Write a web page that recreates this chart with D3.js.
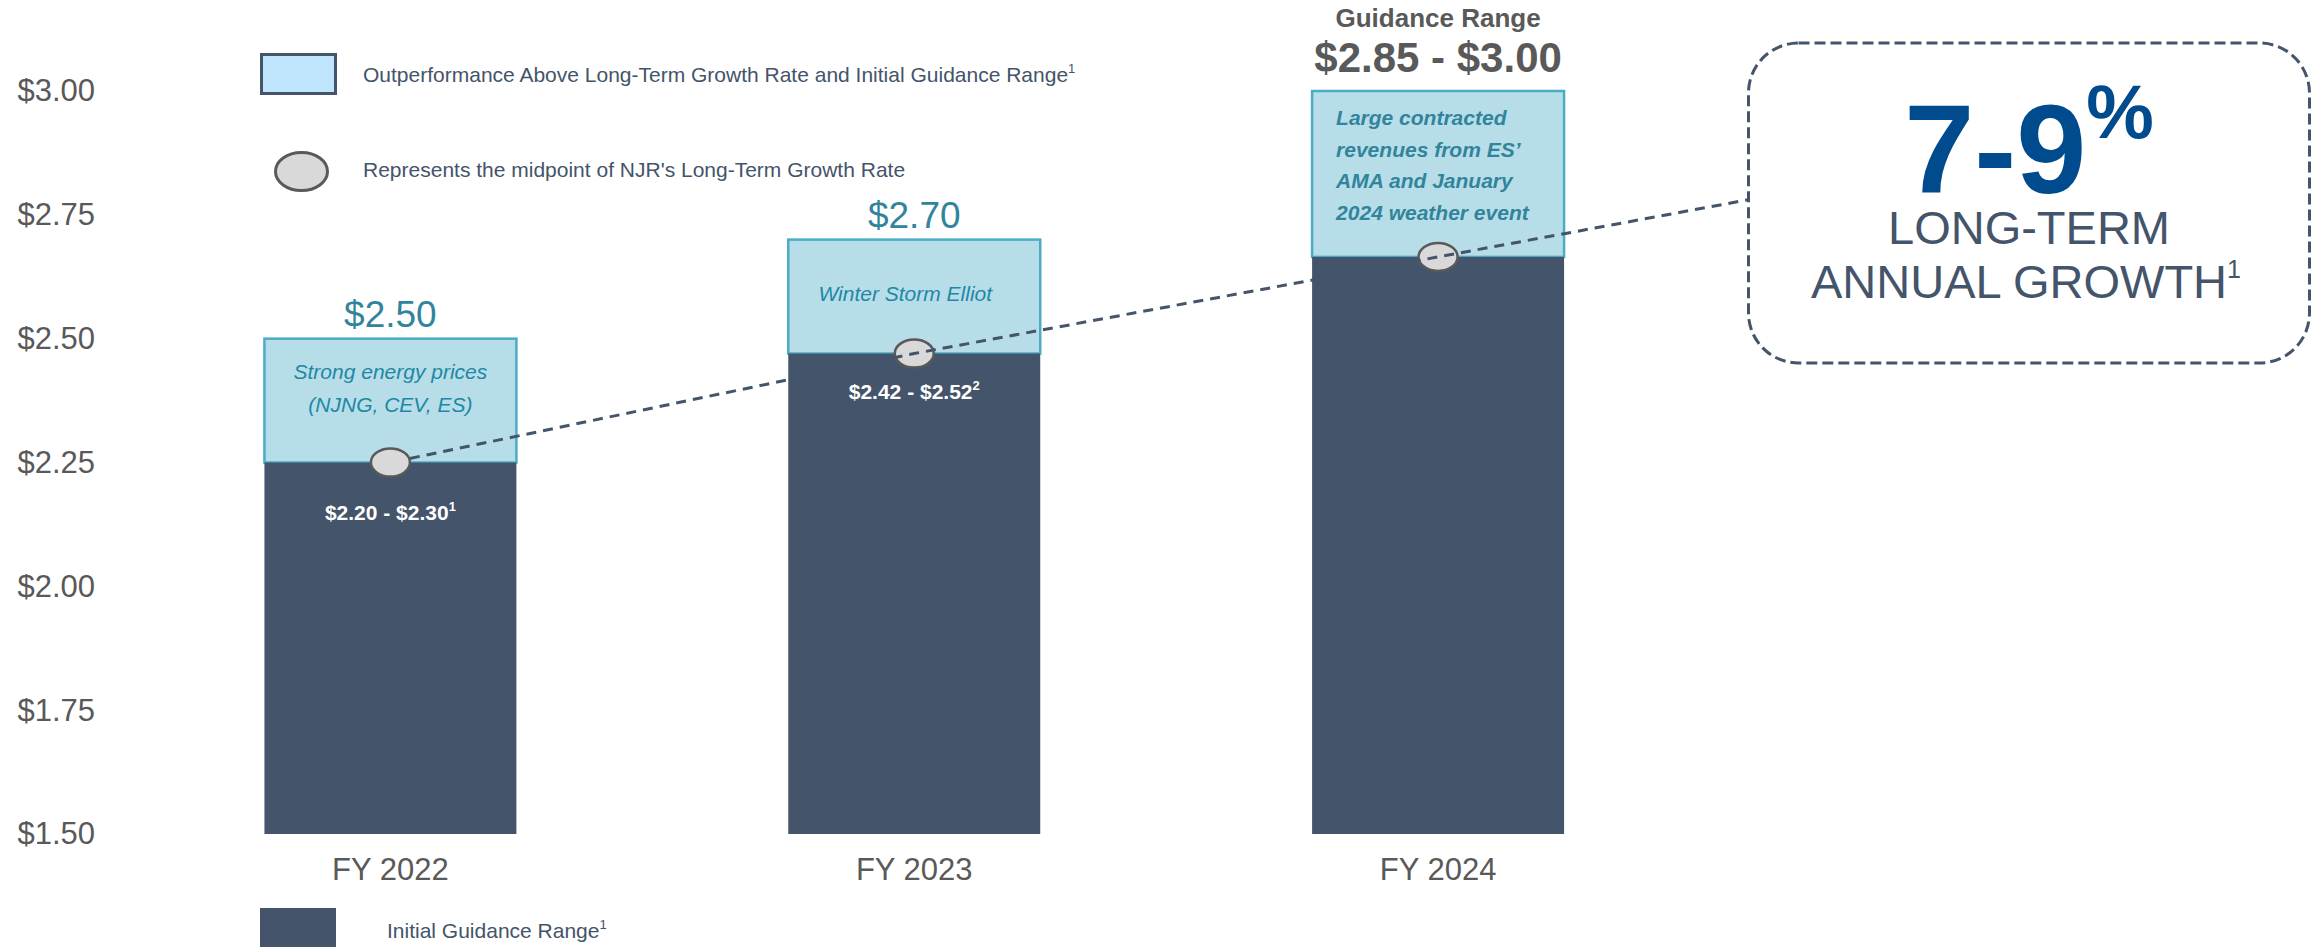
<!DOCTYPE html>
<html>
<head>
<meta charset="utf-8">
<script src="https://cdn.jsdelivr.net/npm/d3@7"></script>
<style>
  body { margin: 0; background: #fff; }
  svg { display: block; font-family: 'Liberation Sans', Arial, sans-serif; }
</style>
</head>
<body>
<div class="container-eps"></div>
<script>
const categories = ['FY 2022', 'FY 2023', 'FY 2024'];
const guidanceMid = [2.25, 2.47, 2.665];
const actualEps = [2.50, 2.70, 3.00];
const actualLabels = ['$2.50', '$2.70', null];
const rangeLabels = [['$2.20 - $2.30', '1'], ['$2.42 - $2.52', '2'], null];
const notes = [
  ['Strong energy prices', '(NJNG, CEV, ES)'],
  ['Winter Storm Elliot'],
  ['Large contracted', 'revenues from ES\u2019', 'AMA and January', '2024 weather event']
];
const yTicks = [1.50, 1.75, 2.00, 2.25, 2.50, 2.75, 3.00];

const width = 2318;
const height = 947;
const colorBar = '#44546a';
const colorLight = '#b7dee8';
const colorTeal = '#31849b';
const colorGray = '#595959';

const svg = d3.select('.container-eps')
  .append('svg')
  .attr('width', width)
  .attr('height', height);

const scaleX = d3.scaleBand()
  .domain(categories)
  .range([128.5, 1700])
  .paddingInner(0.519)
  .paddingOuter(0.2595);

const scaleY = d3.scaleLinear()
  .domain([1.5, 3.0])
  .range([834, 91]);

// axes
const axisY = d3.axisLeft(scaleY)
  .tickValues(yTicks)
  .tickSize(0)
  .tickPadding(0)
  .tickFormat(d => '$' + d.toFixed(2));

const groupAxisY = svg.append('g')
  .attr('transform', 'translate(95,0)')
  .call(axisY);
groupAxisY.select('.domain').remove();
groupAxisY.selectAll('text')
  .attr('font-size', 31)
  .attr('font-family', 'Liberation Sans, Arial, sans-serif')
  .attr('fill', colorGray);

const axisX = d3.axisBottom(scaleX)
  .tickSize(0)
  .tickPadding(24);

const groupAxisX = svg.append('g')
  .attr('transform', `translate(0,${scaleY(1.5)})`)
  .call(axisX);
groupAxisX.select('.domain').remove();
groupAxisX.selectAll('text')
  .attr('font-size', 31)
  .attr('font-family', 'Liberation Sans, Arial, sans-serif')
  .attr('fill', colorGray);

const idx = d3.range(categories.length);

// outperformance boxes
svg.selectAll('rect.outperf')
  .data(idx)
  .enter()
  .append('rect')
  .attr('class', 'outperf')
  .attr('x', i => scaleX(categories[i]))
  .attr('y', i => scaleY(actualEps[i]))
  .attr('width', scaleX.bandwidth())
  .attr('height', i => scaleY(guidanceMid[i]) - scaleY(actualEps[i]))
  .attr('fill', colorLight)
  .attr('stroke', '#4bacc6')
  .attr('stroke-width', 2.5);

// initial guidance bars
svg.selectAll('rect.guidance')
  .data(idx)
  .enter()
  .append('rect')
  .attr('class', 'guidance')
  .attr('x', i => scaleX(categories[i]))
  .attr('y', i => scaleY(guidanceMid[i]))
  .attr('width', scaleX.bandwidth())
  .attr('height', i => scaleY(1.5) - scaleY(guidanceMid[i]))
  .attr('fill', colorBar);

// notes inside the light boxes
const noteStyle = [
  { anchor: 'middle', dx: 0, first: 40.5, step: 33, weight: 'normal', fill: '#2088a5' },
  { anchor: 'middle', dx: -9, first: 61, step: 33, weight: 'normal', fill: '#2088a5' },
  { anchor: 'start', dx: 24, first: 34, step: 31.7, weight: 'bold', fill: colorTeal }
];
idx.forEach(i => {
  const st = noteStyle[i];
  const x0 = st.anchor === 'start'
    ? scaleX(categories[i]) + st.dx
    : scaleX(categories[i]) + scaleX.bandwidth() / 2 + st.dx;
  notes[i].forEach((line, k) => {
    svg.append('text')
      .attr('x', x0)
      .attr('y', scaleY(actualEps[i]) + st.first + k * st.step)
      .attr('text-anchor', st.anchor)
      .attr('font-size', 21)
      .attr('font-style', 'italic')
      .attr('font-weight', st.weight)
      .attr('fill', st.fill)
      .text(line);
  });
});

// actual value labels above the boxes
idx.filter(i => actualLabels[i]).forEach(i => {
  svg.append('text')
    .attr('x', scaleX(categories[i]) + scaleX.bandwidth() / 2)
    .attr('y', scaleY(actualEps[i]) - 12)
    .attr('text-anchor', 'middle')
    .attr('font-size', 37)
    .attr('fill', colorTeal)
    .text(actualLabels[i]);
});

// initial guidance range labels inside dark bars
const rangeOffset = [57, 45];
idx.filter(i => rangeLabels[i]).forEach(i => {
  const t = svg.append('text')
    .attr('x', scaleX(categories[i]) + scaleX.bandwidth() / 2)
    .attr('y', scaleY(guidanceMid[i]) + rangeOffset[i])
    .attr('text-anchor', 'middle')
    .attr('font-size', 21)
    .attr('font-weight', 'bold')
    .attr('fill', '#fff');
  t.append('tspan').text(rangeLabels[i][0]);
  t.append('tspan')
    .attr('font-size', 13)
    .attr('dy', -9)
    .text(rangeLabels[i][1]);
});

// guidance range title over FY 2024
const lastCat = categories[categories.length - 1];
const lastCx = scaleX(lastCat) + scaleX.bandwidth() / 2;
svg.append('text')
  .attr('x', lastCx)
  .attr('y', 27)
  .attr('text-anchor', 'middle')
  .attr('font-size', 26)
  .attr('font-weight', 'bold')
  .attr('fill', colorGray)
  .text('Guidance Range');
svg.append('text')
  .attr('x', lastCx)
  .attr('y', 72)
  .attr('text-anchor', 'middle')
  .attr('font-size', 42)
  .attr('font-weight', 'bold')
  .attr('fill', colorGray)
  .text('$2.85 - $3.00');

// growth callout box
const box = { x: 1748.5, y: 43, w: 561, h: 320 };
svg.append('rect')
  .attr('x', box.x)
  .attr('y', box.y)
  .attr('width', box.w)
  .attr('height', box.h)
  .attr('rx', 50)
  .attr('ry', 50)
  .attr('fill', 'none')
  .attr('stroke', colorBar)
  .attr('stroke-width', 3)
  .attr('stroke-dasharray', '11,5');

const boxCx = box.x + box.w / 2;
const big = svg.append('text')
  .attr('x', boxCx)
  .attr('y', 193)
  .attr('text-anchor', 'middle')
  .attr('font-weight', 'bold')
  .attr('fill', '#004b8d');
big.append('tspan').attr('font-size', 126).text('7-9');
big.append('tspan').attr('font-size', 76).attr('dy', -55).text('%');

svg.append('text')
  .attr('x', boxCx)
  .attr('y', 244)
  .attr('text-anchor', 'middle')
  .attr('font-size', 47)
  .attr('fill', colorBar)
  .text('LONG-TERM');
const growth = svg.append('text')
  .attr('x', boxCx - 3)
  .attr('y', 298)
  .attr('text-anchor', 'middle')
  .attr('font-size', 47)
  .attr('fill', colorBar);
growth.append('tspan').text('ANNUAL GROWTH');
growth.append('tspan').attr('font-size', 25).attr('dy', -20).text('1');

// midpoint circles
const points = idx.map(i => [scaleX(categories[i]) + scaleX.bandwidth() / 2, scaleY(guidanceMid[i])]);
const rx = 19.5;
svg.selectAll('ellipse.mid')
  .data(points)
  .enter()
  .append('ellipse')
  .attr('class', 'mid')
  .attr('cx', d => d[0])
  .attr('cy', d => d[1])
  .attr('rx', rx)
  .attr('ry', 14)
  .attr('fill', '#d9d9d9')
  .attr('stroke', colorGray)
  .attr('stroke-width', 2.5);

// dashed growth trend line, from first circle edge to the callout box
const p0 = points[0];
const pA = points[points.length - 2];
const pB = points[points.length - 1];
const slope0 = (points[1][1] - p0[1]) / (points[1][0] - p0[0]);
const slopeEnd = (pB[1] - pA[1]) / (pB[0] - pA[0]);
const start = [p0[0] + rx, p0[1] + slope0 * rx];
const end = [box.x, pB[1] + slopeEnd * (box.x - pB[0])];
const lineData = [start].concat(points.slice(1), [end]);

svg.append('path')
  .attr('d', d3.line()(lineData))
  .attr('fill', 'none')
  .attr('stroke', colorBar)
  .attr('stroke-width', 3)
  .attr('stroke-dasharray', '10,7');

// legends
svg.append('rect')
  .attr('x', 261.5)
  .attr('y', 54.5)
  .attr('width', 74)
  .attr('height', 39)
  .attr('fill', '#bfe5fd')
  .attr('stroke', colorBar)
  .attr('stroke-width', 3);
const leg1 = svg.append('text')
  .attr('x', 363)
  .attr('y', 82)
  .attr('font-size', 21)
  .attr('fill', colorBar);
leg1.append('tspan').text('Outperformance Above Long-Term Growth Rate and Initial Guidance Range');
leg1.append('tspan').attr('font-size', 13).attr('dy', -9).text('1');

svg.append('ellipse')
  .attr('cx', 301.5)
  .attr('cy', 171.5)
  .attr('rx', 26)
  .attr('ry', 19)
  .attr('fill', '#d9d9d9')
  .attr('stroke', colorGray)
  .attr('stroke-width', 3);
svg.append('text')
  .attr('x', 363)
  .attr('y', 177)
  .attr('font-size', 21)
  .attr('fill', colorBar)
  .text('Represents the midpoint of NJR\'s Long-Term Growth Rate');

svg.append('rect')
  .attr('x', 260)
  .attr('y', 908)
  .attr('width', 76)
  .attr('height', 45)
  .attr('fill', colorBar);
const leg3 = svg.append('text')
  .attr('x', 387)
  .attr('y', 938)
  .attr('font-size', 21)
  .attr('fill', colorBar);
leg3.append('tspan').text('Initial Guidance Range');
leg3.append('tspan').attr('font-size', 13).attr('dy', -9).text('1');
</script>
</body>
</html>
